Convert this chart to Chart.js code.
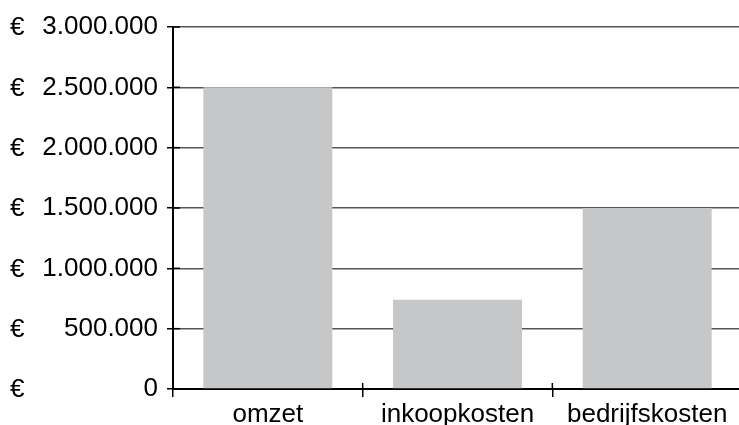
<!DOCTYPE html>
<html><head><meta charset="utf-8">
<script src="https://cdn.jsdelivr.net/npm/chart.js@4/dist/chart.umd.min.js"></script>
<style>html,body{margin:0;padding:0;background:#fff;overflow:hidden}#wrap{width:742px;height:425px}</style>
</head><body><div id="wrap"><canvas id="c"></canvas></div>
<script>
const categories = ['omzet', 'inkoopkosten', 'bedrijfskosten'];
const values = [2500000, 740000, 1500000];
const yTicks = [0, 500000, 1000000, 1500000, 2000000, 2500000, 3000000];
const currency = '€';

const FONT = "'Liberation Sans', Arial, sans-serif";
function fmt(v){ return String(v).replace(/\B(?=(\d{3})+(?!\d))/g, '.'); }

const extras = {
  id: 'extras',
  afterDraw(chart){
    const ctx = chart.ctx, y = chart.scales.y, x = chart.scales.x, ca = chart.chartArea;
    ctx.save();
    ctx.fillStyle = '#000';
    ctx.font = '26px ' + FONT;
    ctx.textAlign = 'left';
    ctx.textBaseline = 'middle';
    yTicks.forEach(v => ctx.fillText(currency, 10, y.getPixelForValue(v) + 1));
    // small crossing ticks above the x-axis at category boundaries
    ctx.strokeStyle = '#000';
    ctx.lineWidth = 1.5;
    for (let i = 1; i < categories.length; i++) {
      const px = (x.getPixelForValue(i - 1) + x.getPixelForValue(i)) / 2;
      ctx.beginPath(); ctx.moveTo(px, ca.bottom - 6); ctx.lineTo(px, ca.bottom); ctx.stroke();
    }
    // y ticks extend slightly to the right of the axis
    yTicks.forEach(v => {
      const py = y.getPixelForValue(v);
      ctx.beginPath(); ctx.moveTo(ca.left, py); ctx.lineTo(ca.left + 7, py); ctx.stroke();
    });
    ctx.restore();
  }
};

new Chart(document.getElementById('c'), {
  type: 'bar',
  data: { labels: categories, datasets: [{ data: values, backgroundColor: '#c6c7c9', borderWidth: 0, barPercentage: 0.68, categoryPercentage: 1 }] },
  options: {
    responsive: true, maintainAspectRatio: false, animation: false,
    layout: { padding: { top: 27, right: 0, left: 0, bottom: 0 } },
    plugins: { legend: { display: false }, tooltip: { enabled: false } },
    scales: {
      x: {
        grid: { display: true, offset: true, drawOnChartArea: false, color: '#000', tickColor: '#000', lineWidth: 1.5, tickLength: 8 },
        border: { display: true, color: '#000', width: 2 },
        ticks: { color: '#000', font: { family: FONT, size: 26 }, padding: 2, maxRotation: 0, autoSkip: false },
        afterFit(s){ s.height = 36; }
      },
      y: {
        min: 0, max: 3000000,
        afterBuildTicks(s){ s.ticks = yTicks.map(v => ({ value: v })); },
        grid: { color: '#555', lineWidth: 1.5, tickColor: '#000', tickLength: 6 },
        border: { display: true, color: '#000', width: 2 },
        ticks: { color: '#000', font: { family: FONT, size: 26 }, padding: 9, callback: v => fmt(v) },
        afterFit(s){ s.width = 173; }
      }
    }
  },
  plugins: [extras]
});
</script></body></html>
